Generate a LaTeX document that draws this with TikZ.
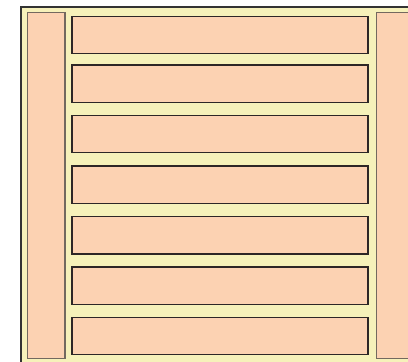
\documentclass[tikz,border=0pt]{standalone}
\usetikzlibrary{positioning}
\definecolor{frameyellow}{RGB}{246,241,186}
\definecolor{peach}{RGB}{252,210,178}
\definecolor{edgedark}{RGB}{45,38,38}
\definecolor{edgegray}{RGB}{115,105,95}
\tikzset{
  panel/.style={draw=edgegray, fill=peach, line width=1.4pt, inner sep=0pt, outer sep=0pt, anchor=north west},
  barbox/.style={draw=edgedark, fill=peach, line width=1.1pt, inner sep=0pt, outer sep=0pt, anchor=north west, minimum width=296pt, minimum height=37.5pt},
}
\begin{document}
\begin{tikzpicture}[x=1pt,y=-1pt]
\useasboundingbox (0,0) rectangle (408,362);
\clip (0,0) rectangle (408,362);
% outer frame
\node[draw=black!80, fill=frameyellow, line width=2pt, inner sep=0pt, anchor=north west,
      minimum width=400pt, minimum height=370pt] (frame) at (20,6) {};
% side columns
\node[panel, minimum width=37.7pt, minimum height=346pt] (left) at (27.3,12.7) {};
\node[panel, minimum width=40pt, minimum height=346pt] (right) at (376.7,12.7) {};
% bars
\node[barbox] (b1) at (72,16.3) {};
\node[barbox] (b2) at (72,65) {};
\node[barbox] (b3) at (72,115.3) {};
\node[barbox] (b4) at (72,166) {};
\node[barbox] (b5) at (72,216.5) {};
\node[barbox] (b6) at (72,267) {};
\node[barbox] (b7) at (72,317.3) {};
\end{tikzpicture}
\end{document}
